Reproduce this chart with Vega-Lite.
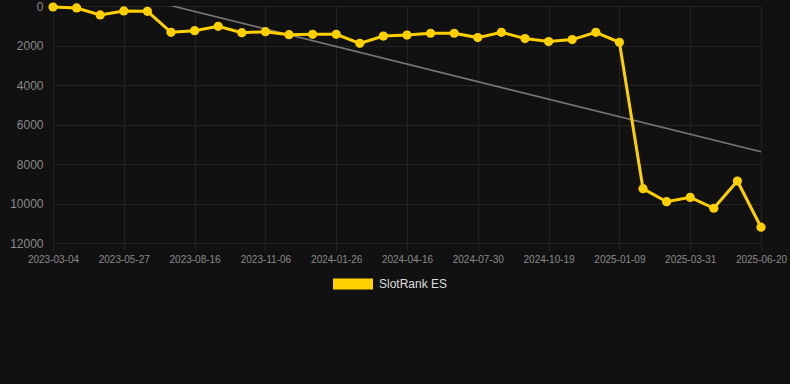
{
  "$schema": "https://vega.github.io/schema/vega-lite/v6.json",
  "autosize": "none",
  "width": 745,
  "height": 237,
  "padding": {"left": 45, "top": 6, "right": 0, "bottom": 141},
  "background": "#111111",
  "config": {
    "view": {"stroke": null},
    "font": "Liberation Sans"
  },
  "datasets": {
    "rank": [
      {"date": "2023-03-04", "rank": 50, "series": "SlotRank ES"},
      {"date": "2023-04-01", "rank": 100, "series": "SlotRank ES"},
      {"date": "2023-04-29", "rank": 450, "series": "SlotRank ES"},
      {"date": "2023-05-27", "rank": 250, "series": "SlotRank ES"},
      {"date": "2023-06-23", "rank": 270, "series": "SlotRank ES"},
      {"date": "2023-07-20", "rank": 1330, "series": "SlotRank ES"},
      {"date": "2023-08-16", "rank": 1250, "series": "SlotRank ES"},
      {"date": "2023-09-12", "rank": 1030, "series": "SlotRank ES"},
      {"date": "2023-10-09", "rank": 1350, "series": "SlotRank ES"},
      {"date": "2023-11-06", "rank": 1300, "series": "SlotRank ES"},
      {"date": "2023-12-03", "rank": 1450, "series": "SlotRank ES"},
      {"date": "2023-12-30", "rank": 1435, "series": "SlotRank ES"},
      {"date": "2024-01-26", "rank": 1435, "series": "SlotRank ES"},
      {"date": "2024-02-22", "rank": 1890, "series": "SlotRank ES"},
      {"date": "2024-03-20", "rank": 1520, "series": "SlotRank ES"},
      {"date": "2024-04-16", "rank": 1470, "series": "SlotRank ES"},
      {"date": "2024-05-21", "rank": 1380, "series": "SlotRank ES"},
      {"date": "2024-06-25", "rank": 1380, "series": "SlotRank ES"},
      {"date": "2024-07-30", "rank": 1600, "series": "SlotRank ES"},
      {"date": "2024-08-26", "rank": 1330, "series": "SlotRank ES"},
      {"date": "2024-09-22", "rank": 1650, "series": "SlotRank ES"},
      {"date": "2024-10-19", "rank": 1800, "series": "SlotRank ES"},
      {"date": "2024-11-15", "rank": 1700, "series": "SlotRank ES"},
      {"date": "2024-12-12", "rank": 1330, "series": "SlotRank ES"},
      {"date": "2025-01-09", "rank": 1840, "series": "SlotRank ES"},
      {"date": "2025-02-05", "rank": 9250, "series": "SlotRank ES"},
      {"date": "2025-03-04", "rank": 9910, "series": "SlotRank ES"},
      {"date": "2025-03-31", "rank": 9690, "series": "SlotRank ES"},
      {"date": "2025-04-27", "rank": 10240, "series": "SlotRank ES"},
      {"date": "2025-05-24", "rank": 8860, "series": "SlotRank ES"},
      {"date": "2025-06-20", "rank": 11200, "series": "SlotRank ES"}
    ],
    "trend": [
      {"date": "2023-03-04", "rank": -1500},
      {"date": "2025-06-20", "rank": 7380}
    ]
  },
  "encoding": {
    "x": {
      "field": "date",
      "type": "ordinal",
      "sort": null,
      "scale": {
        "type": "point",
        "domain": ["2023-03-04","2023-04-01","2023-04-29","2023-05-27","2023-06-23","2023-07-20","2023-08-16","2023-09-12","2023-10-09","2023-11-06","2023-12-03","2023-12-30","2024-01-26","2024-02-22","2024-03-20","2024-04-16","2024-05-21","2024-06-25","2024-07-30","2024-08-26","2024-09-22","2024-10-19","2024-11-15","2024-12-12","2025-01-09","2025-02-05","2025-03-04","2025-03-31","2025-04-27","2025-05-24","2025-06-20"],
        "range": [{"expr": "8"}, {"expr": "716"}],
        "padding": 0
      },
      "axis": {
        "title": null,
        "values": ["2023-03-04","2023-05-27","2023-08-16","2023-11-06","2024-01-26","2024-04-16","2024-07-30","2024-10-19","2025-01-09","2025-03-31","2025-06-20"],
        "labelAngle": 0,
        "labelFontSize": 10,
        "labelColor": "#8a8a8a",
        "labelPadding": 3,
        "tickSize": 8,
        "tickColor": "#222222",
        "grid": true,
        "gridColor": "#222222",
        "domain": false
      }
    },
    "y": {
      "field": "rank",
      "type": "quantitative",
      "scale": {"domain": [0, 12000], "reverse": true, "nice": false, "zero": false},
      "axis": {
        "title": null,
        "format": "d",
        "values": [0, 2000, 4000, 6000, 8000, 10000, 12000],
        "labelFontSize": 12,
        "labelColor": "#8a8a8a",
        "labelPadding": 2,
        "ticks": false,
        "grid": true,
        "gridColor": "#222222",
        "domain": false
      }
    }
  },
  "layer": [
    {
      "data": {"name": "trend"},
      "mark": {"type": "line", "color": "#777777", "strokeWidth": 1.6, "clip": true},
      "encoding": {}
    },
    {
      "data": {"name": "rank"},
      "mark": {"type": "line", "strokeWidth": 3, "point": {"filled": true, "size": 85, "opacity": 1}},
      "encoding": {
        "color": {
          "field": "series",
          "type": "nominal",
          "scale": {"domain": ["SlotRank ES"], "range": ["#FFD000"]},
          "legend": {
            "title": null,
            "orient": "none",
            "legendX": 298,
            "legendY": 268,
            "symbolType": "M-2,-0.55H2V0.55H-2Z",
            "symbolSize": 400,
            "symbolStrokeWidth": 0,
            "symbolFillColor": "#FFD000",
            "symbolOpacity": 1,
            "labelFontSize": 12,
            "labelColor": "#dddddd",
            "labelOffset": 16
          }
        }
      }
    }
  ]
}
